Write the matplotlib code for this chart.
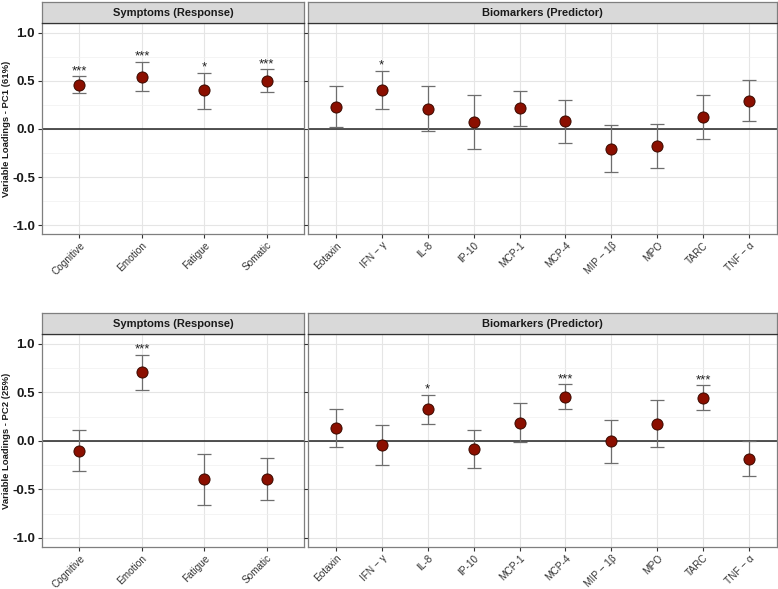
import numpy as np
import matplotlib
matplotlib.use('Agg')
import matplotlib.pyplot as plt

plt.rcParams['font.family'] = ['Liberation Sans', 'DejaVu Sans']

symptoms = ['Cognitive', 'Emotion', 'Fatigue', 'Somatic']
biomarkers = ['Eotaxin', 'IFN − γ', 'IL-8', 'IP-10', 'MCP-1', 'MCP-4',
              'MIP − 1β', 'MPO', 'TARC', 'TNF − α']

# PC1 loadings with interval bounds
pc1_sym = [0.46, 0.54, 0.40, 0.50]
pc1_sym_lo = [0.375, 0.39, 0.21, 0.385]
pc1_sym_hi = [0.545, 0.70, 0.585, 0.62]
pc1_sym_sig = ['***', '***', '*', '***']

pc1_bio = [0.233, 0.406, 0.212, 0.069, 0.215, 0.080, -0.208, -0.174, 0.125, 0.292]
pc1_bio_lo = [0.021, 0.212, -0.021, -0.208, 0.028, -0.146, -0.448, -0.403, -0.104, 0.080]
pc1_bio_hi = [0.441, 0.604, 0.444, 0.354, 0.399, 0.302, 0.038, 0.052, 0.354, 0.507]
pc1_bio_sig = ['', '*', '', '', '', '', '', '', '', '']

# PC2 loadings with interval bounds
pc2_sym = [-0.10, 0.708, -0.396, -0.389]
pc2_sym_lo = [-0.31, 0.528, -0.656, -0.604]
pc2_sym_hi = [0.118, 0.889, -0.135, -0.177]
pc2_sym_sig = ['', '***', '', '']

pc2_bio = [0.132, -0.042, 0.326, -0.083, 0.184, 0.455, -0.003, 0.177, 0.444, -0.181]
pc2_bio_lo = [-0.066, -0.25, 0.177, -0.281, -0.014, 0.330, -0.222, -0.0625, 0.323, -0.365]
pc2_bio_hi = [0.333, 0.167, 0.479, 0.118, 0.389, 0.587, 0.215, 0.424, 0.573, 0.0]
pc2_bio_sig = ['', '', '*', '', '', '***', '', '', '***', '']

rows = [
    ('Variable Loadings - PC1 (61%)',
     (pc1_sym, pc1_sym_lo, pc1_sym_hi, pc1_sym_sig),
     (pc1_bio, pc1_bio_lo, pc1_bio_hi, pc1_bio_sig)),
    ('Variable Loadings - PC2 (25%)',
     (pc2_sym, pc2_sym_lo, pc2_sym_hi, pc2_sym_sig),
     (pc2_bio, pc2_bio_lo, pc2_bio_hi, pc2_bio_sig)),
]

W, H = 778, 589
fig = plt.figure(figsize=(W / 100, H / 100), dpi=100)

def px_axes(x0, y0, x1, y1):
    return fig.add_axes([x0 / W, 1 - y1 / H, (x1 - x0) / W, (y1 - y0) / H])

def draw_panel(ax, labels, vals, lo, hi, sig, title, strip_box):
    x = np.arange(len(labels))
    vals = np.array(vals)
    err = [vals - np.array(lo), np.array(hi) - vals]
    ax.set_xlim(-0.6, len(labels) - 0.4)
    ax.set_ylim(-1.09, 1.1)
    ax.set_yticks([-1.0, -0.5, 0.0, 0.5, 1.0])
    ax.set_yticks([-0.75, -0.25, 0.25, 0.75], minor=True)
    ax.set_xticks(x)
    ax.grid(True, which='major', color='#E5E5E5', lw=0.8)
    ax.grid(True, which='minor', axis='y', color='#F0F0F0', lw=0.5)
    ax.set_axisbelow(True)
    ax.axhline(0, color='#222222', lw=1.1, zorder=2)
    ax.errorbar(x, vals, yerr=err, fmt='none', ecolor='#6E6E6E', elinewidth=0.9,
                capsize=4.7, capthick=0.9, zorder=3)
    ax.plot(x, vals, 'o', ms=8, mfc='#8B0F00', mec='#3A0A00', mew=0.7, zorder=4)
    for xi, h, s in zip(x, hi, sig):
        if s:
            ax.text(xi, h - 0.01, s, ha='center', va='bottom', fontsize=9.5,
                    color='#222222')
    ax.set_xticklabels(labels, rotation=45, ha='right', rotation_mode='anchor',
                       fontsize=7.2, color='#333333')
    ax.tick_params(axis='x', length=3, color='#333333', pad=1.5)
    ax.tick_params(axis='y', which='major', length=3, color='#333333', pad=2)
    ax.tick_params(axis='y', which='minor', length=0)
    for sp in ax.spines.values():
        sp.set_color('#7F7F7F')
        sp.set_linewidth(0.9)
    # facet strip
    sax = px_axes(*strip_box)
    sax.set_facecolor('#D9D9D9')
    sax.set_xticks([])
    sax.set_yticks([])
    for sp in sax.spines.values():
        sp.set_color('#7F7F7F')
        sp.set_linewidth(0.9)
    sax.spines['bottom'].set_color('#333333')
    sax.text(0.5, 0.5, title, ha='center', va='center', fontsize=8,
             fontweight='bold', color='#1A1A1A', transform=sax.transAxes)

tops = [(2, 23, 234), (313.3, 334.3, 546.7)]
for (ylabel, sym, bio), (s0, p0, p1) in zip(rows, tops):
    axl = px_axes(42, p0, 304.3, p1)
    axr = px_axes(308.3, p0, 776.7, p1)
    draw_panel(axl, symptoms, *sym, 'Symptoms (Response)', (42, s0, 304.3, p0))
    draw_panel(axr, biomarkers, *bio, 'Biomarkers (Predictor)', (308.3, s0, 776.7, p0))
    axl.set_yticklabels(['-1.0', '-0.5', '0.0', '0.5', '1.0'], fontsize=9.5,
                        fontweight='bold', color='#1A1A1A')
    axr.set_yticklabels([])
    fig.text(7 / W, 1 - (p0 + p1) / 2 / H, ylabel, rotation=90, ha='center',
             va='center', fontsize=6.8, fontweight='bold', color='#1A1A1A')

fig.savefig('out.png', dpi=100)
